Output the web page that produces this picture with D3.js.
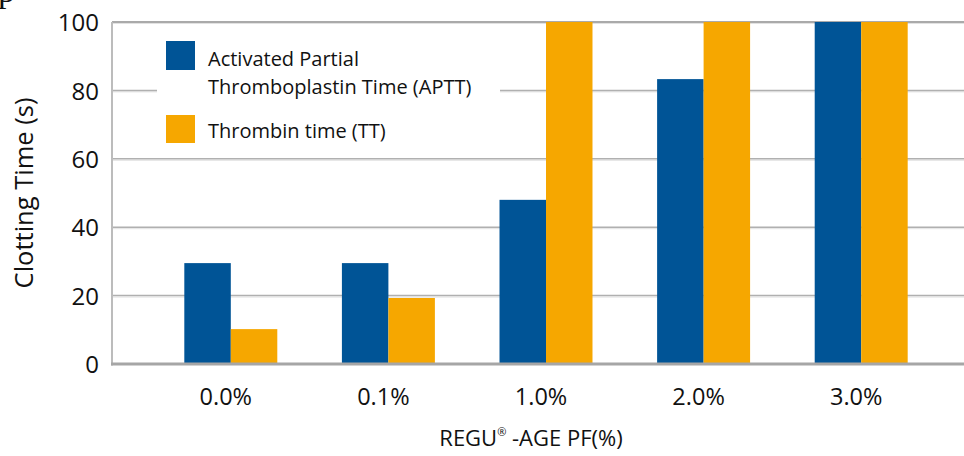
<!DOCTYPE html>
<html>
<head>
<meta charset="utf-8">
<script src="https://cdn.jsdelivr.net/npm/d3@7/dist/d3.min.js"></script>
<style>
html,body{margin:0;padding:0;background:#fff;}
svg{display:block;font-family:"Open Sans",sans-serif;}
</style>
</head>
<body>
<svg id="chart" width="964" height="456"></svg>
<script>
const categories = ["0.0%", "0.1%", "1.0%", "2.0%", "3.0%"];
const seriesNames = ["Activated Partial Thromboplastin Time (APTT)", "Thrombin time (TT)"];
const aptt = [29.5, 29.5, 48, 83.3, 100];
const tt = [10.2, 19.3, 100, 100, 100];
const yTicks = [0, 20, 40, 60, 80, 100];
const colors = ["#005496", "#F6A700"];

const svg = d3.select("#chart");
const x = d3.scaleBand().domain(categories).range([152, 940]).paddingInner(0.41).paddingOuter(0.205);
const xs = d3.scaleBand().domain([0, 1]).range([0, x.bandwidth()]);
const y = d3.scaleLinear().domain([0, 100]).range([364, 22]);
const axisX = 112;

// stray glyph at top-left
svg.append("text").attr("x", -2).attr("y", 2).attr("font-family", "Liberation Serif")
  .attr("font-size", 34).attr("fill", "#111").text("p");

// gridlines
const grid = svg.append("g");
yTicks.filter(t => t > 0).forEach(t => {
  grid.append("line").attr("x1", axisX).attr("x2", 964)
    .attr("y1", y(t) + 1.5).attr("y2", y(t) + 1.5)
    .attr("stroke", "#e2e2e2").attr("stroke-width", 1);
  grid.append("line").attr("x1", axisX).attr("x2", 964)
    .attr("y1", y(t)).attr("y2", y(t))
    .attr("stroke", t === 100 ? "#8e8e8e" : "#b0b0b0").attr("stroke-width", 1.5);
});

// bars
const data = categories.map((c, i) => ({c, v: [aptt[i], tt[i]]}));
const g = svg.append("g");
data.forEach(d => {
  d.v.forEach((v, k) => {
    g.append("rect").attr("x", x(d.c) + xs(k)).attr("width", xs.bandwidth())
      .attr("y", y(v)).attr("height", y(0) - y(v)).attr("fill", colors[k]);
  });
});

// axes lines
svg.append("line").attr("x1", axisX).attr("x2", axisX).attr("y1", y(100)).attr("y2", y(0) + 1.5)
  .attr("stroke", "#bcbcbc").attr("stroke-width", 2);
svg.append("line").attr("x1", axisX - 1).attr("x2", 964).attr("y1", y(0)).attr("y2", y(0))
  .attr("stroke", "#a6a6a6").attr("stroke-width", 3);

// y axis labels via d3 axis
const yAxis = d3.axisLeft(y).tickValues(yTicks).tickSize(0).tickPadding(0);
const yg = svg.append("g").attr("transform", "translate(99,0)").call(yAxis);
yg.select(".domain").remove();
yg.selectAll("text").attr("font-family", "Open Sans").attr("font-size", 24).attr("fill", "#111").attr("dy", "0.36em");

// x axis labels
const xAxis = d3.axisBottom(x).tickSize(0).tickPadding(0);
const xg = svg.append("g").attr("transform", "translate(0,388)").call(xAxis);
xg.select(".domain").remove();
xg.selectAll("text").attr("font-family", "Open Sans").attr("font-size", 23.5).attr("fill", "#111").attr("dy", "0.71em").attr("dx", -5);

// axis titles
svg.append("text").attr("transform", "translate(33,193) rotate(-90)").attr("text-anchor", "middle")
  .attr("font-size", 25.5).attr("fill", "#111").text("Clotting Time (s)");
const xt = svg.append("text").attr("x", 531).attr("y", 446).attr("text-anchor", "middle")
  .attr("font-size", 22).attr("fill", "#111");
xt.append("tspan").text("REGU");
xt.append("tspan").attr("font-size", 11).attr("dy", -10).text("®");
xt.append("tspan").attr("dy", 10).text(" -AGE PF(%)");

// legend
const lg = svg.append("g");
lg.append("rect").attr("x", 157).attr("y", 30).attr("width", 343).attr("height", 118).attr("fill", "#fff");
lg.append("rect").attr("x", 166).attr("y", 41).attr("width", 29).attr("height", 29).attr("fill", colors[0]);
lg.append("rect").attr("x", 166).attr("y", 115).attr("width", 29).attr("height", 28).attr("fill", colors[1]);
const t1 = lg.append("text").attr("x", 208).attr("y", 66).attr("font-size", 20).attr("fill", "#111");
t1.append("tspan").attr("x", 208).text("Activated Partial");
t1.append("tspan").attr("x", 208).attr("dy", 27.5).text("Thromboplastin Time (APTT)");
lg.append("text").attr("x", 208).attr("y", 138).attr("font-size", 20).attr("fill", "#111").text(seriesNames[1]);
</script>
</body>
</html>
